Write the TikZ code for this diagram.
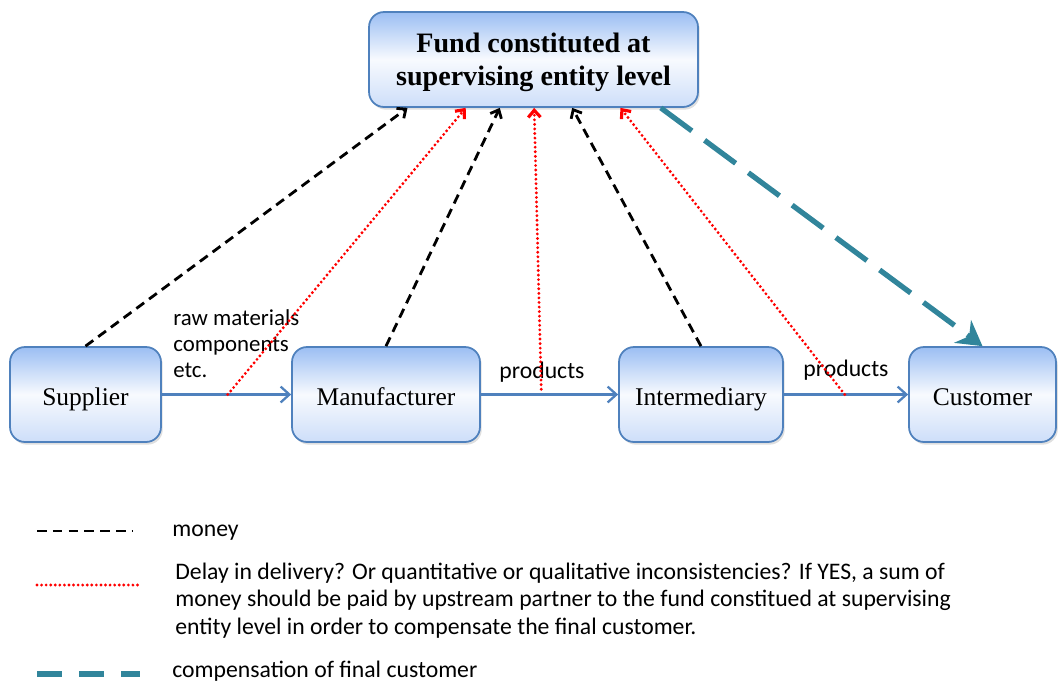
\documentclass[tikz,border=0pt]{standalone}
\usepackage{fontspec}
\setmainfont{Liberation Serif}
\newfontfamily\calibri{Carlito}
\usetikzlibrary{positioning,arrows.meta,calc,shadows}
\definecolor{boxline}{RGB}{79,129,189}
\definecolor{boxtop}{RGB}{155,190,243}
\definecolor{boxbot}{RGB}{205,222,249}
\definecolor{compteal}{RGB}{49,133,155}

\begin{document}
\begin{tikzpicture}[x=0.02cm,y=-0.02cm,
    box/.style={draw=boxline,line width=1pt,rounded corners=0.3cm,
      top color=boxtop,bottom color=boxbot,middle color=white!85!boxbot,
      minimum height=1.9cm,inner sep=0pt,font=\fontsize{14.5}{17}\selectfont,
      text height=12pt,text depth=0pt,
      drop shadow={opacity=0.25,shadow xshift=1pt,shadow yshift=-1.5pt}},
    flow/.style={draw=boxline,line width=1.3pt,-{Straight Barb[length=5pt,width=9pt]}},
    money/.style={black,line width=1.6pt,dash pattern=on 5.5pt off 3.5pt,-{Straight Barb[length=4pt,width=7pt]}},
    delay/.style={red,line width=1.8pt,line cap=round,dash pattern=on 0pt off 2.6pt,-{Straight Barb[length=4pt,width=7pt]}},
    comp/.style={compteal,line width=3pt,dash pattern=on 22pt off 9pt,-{Stealth[length=14pt,width=16pt]}},
    lbl/.style={font=\calibri\fontsize{13.5}{15.6}\selectfont,align=left,inner sep=0pt}]
  \useasboundingbox (0,0) rectangle (1059,681);

  \node[box,minimum width=6.58cm,align=center,text height=29.5pt,
    font=\bfseries\fontsize{16}{18.5}\selectfont] (fund) at (533.5,59.5) {Fund constituted at\\supervising entity level};
  \node[box,minimum width=3.02cm] (supplier) at (85.5,394.5) {Supplier};
  \node[box,minimum width=3.76cm] (manuf) at (386,394.5) {Manufacturer};
  \node[box,minimum width=3.28cm] (interm) at (701,394.5) {Intermediary};
  \node[box,minimum width=2.94cm] (customer) at (982.5,394.5) {Customer};

  \draw[flow] (supplier) -- coordinate[pos=0.51] (d1) (manuf);
  \draw[flow] (manuf) -- coordinate[pos=0.44] (d2) (interm);
  \draw[flow] (interm) -- coordinate[pos=0.49] (d3) (customer);

  \node[lbl,anchor=base west,font=\calibri\fontsize{13}{14.7}\selectfont] (raw) at (173,377) {raw materials\\components\\etc.};
  \node[lbl,anchor=base] (prod1) at (542,378) {products};
  \node[lbl,anchor=base] (prod2) at (846,376) {products};

  \draw[money] (supplier.north) -- ($(fund.south west)!0.119!(fund.south east)$);
  \draw[money] (manuf.north) -- ($(fund.south west)!0.398!(fund.south east)$);
  \draw[money] (interm.north) -- ($(fund.south west)!0.617!(fund.south east)$);

  \draw[delay] (d1) -- ($(fund.south west)!0.295!(fund.south east)$);
  \draw[delay] ([yshift=3pt]d2) -- ($(fund.south west)!0.502!(fund.south east)$);
  \draw[delay] (d3) -- ($(fund.south west)!0.763!(fund.south east)$);

  \draw[comp] ($(fund.south west)!0.885!(fund.south east)$) -- (customer.north);

  \draw[money,-] (37,531) -- (133,531);
  \node[lbl,anchor=base west] (lmoney) at (172,536) {money};
  \draw[delay,-] (37,585) -- (140,585);
  \node[lbl,anchor=base west] (ldelay) at (175,634) {Delay in delivery? Or quantitative or qualitative inconsistencies? If YES, a sum of\\money should be paid by upstream partner to the fund constitued at supervising\\entity level in order to compensate the final customer.};
  \draw[compteal,line width=3pt,dash pattern=on 14pt off 10pt] (37,674) -- (140,674);
  \node[lbl,anchor=base west] (lcomp) at (172,677) {compensation of final customer};
\end{tikzpicture}
\end{document}
